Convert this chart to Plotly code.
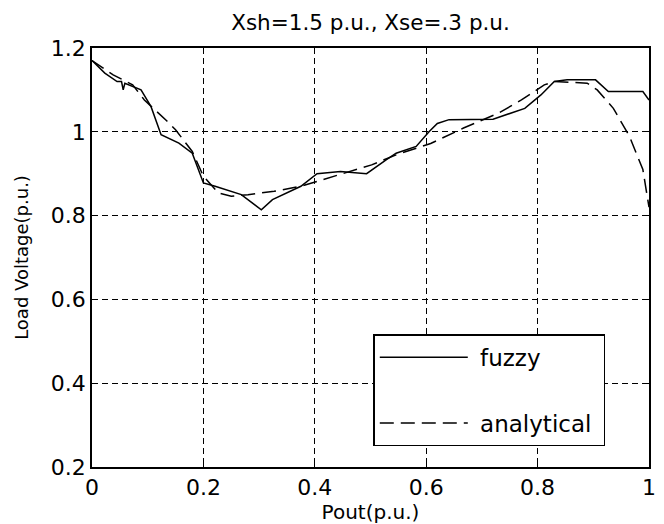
import plotly.graph_objects as go

title_text = "Xsh=1.5 p.u., Xse=.3 p.u."
x_label = "Pout(p.u.)"
y_label = "Load Voltage(p.u.)"
legend_names = ["fuzzy", "analytical"]

fuzzy_x = [0, 0.023, 0.045, 0.053, 0.056, 0.059, 0.088, 0.106, 0.124, 0.156, 0.18, 0.2, 0.221,
           0.268, 0.304, 0.324, 0.375, 0.404, 0.446, 0.493, 0.528, 0.546, 0.582, 0.605, 0.62,
           0.641, 0.72, 0.747, 0.777, 0.806, 0.83, 0.853, 0.904, 0.927, 0.989, 1.0]
fuzzy_y = [1.17, 1.14, 1.12, 1.12, 1.10, 1.116, 1.10, 1.06, 0.993, 0.973, 0.949, 0.878, 0.87,
           0.85, 0.814, 0.838, 0.87, 0.90, 0.905, 0.90, 0.933, 0.949, 0.965, 1.0, 1.02,
           1.029, 1.03, 1.043, 1.056, 1.088, 1.12, 1.124, 1.124, 1.096, 1.096, 1.076]

analytical_x = [0, 0.038, 0.073, 0.094, 0.135, 0.15, 0.18, 0.2, 0.227, 0.25, 0.28, 0.327, 0.375,
                0.404, 0.446, 0.502, 0.546, 0.582, 0.608, 0.667, 0.729, 0.771, 0.812, 0.83,
                0.889, 0.907, 0.936, 0.965, 0.989, 1.0]
analytical_y = [1.17, 1.136, 1.112, 1.076, 1.025, 1.005, 0.953, 0.894, 0.854, 0.846, 0.85, 0.858,
                0.87, 0.882, 0.898, 0.921, 0.945, 0.96, 0.972, 1.009, 1.044, 1.076, 1.112, 1.12,
                1.116, 1.1, 1.056, 0.989, 0.91, 0.82]

x_ticks = [0, 0.2, 0.4, 0.6, 0.8, 1]
x_ticktext = ["0", "0.2", "0.4", "0.6", "0.8", "1"]
y_ticks = [0.2, 0.4, 0.6, 0.8, 1.0, 1.2]
y_ticktext = ["0.2", "0.4", "0.6", "0.8", "1", "1.2"]

FONT = "DejaVu Sans, sans-serif"
NBSP = "\u00a0"

fig = go.Figure()
fig.add_trace(go.Scatter(x=fuzzy_x, y=fuzzy_y, mode="lines", name=NBSP + legend_names[0],
                         legendgroup="a",
                         line=dict(color="black", width=1.5)))
fig.add_trace(go.Scatter(x=analytical_x, y=analytical_y, mode="lines",
                         name=NBSP + legend_names[1] + NBSP,
                         legendgroup="b",
                         line=dict(color="black", width=1.5, dash="14px,7px")))

axis_common = dict(
    showline=True, linecolor="black", linewidth=1.5, mirror="allticks",
    ticks="inside", ticklen=5, tickcolor="black",
    showgrid=True, gridcolor="black", gridwidth=1, griddash="6px,4px",
    zeroline=False, tickfont=dict(family=FONT, size=22, color="black"),
)

fig.update_xaxes(range=[0, 1], tickvals=x_ticks, ticktext=x_ticktext,
                 title=dict(text=x_label, font=dict(family=FONT, size=20, color="black"), standoff=2),
                 **axis_common)
fig.update_yaxes(range=[0.2, 1.2], tickvals=y_ticks, ticktext=y_ticktext,
                 ticklabelstandoff=0,
                 title=dict(text=y_label, font=dict(family=FONT, size=18, color="black"), standoff=18),
                 **axis_common)

fig.update_layout(
    width=664, height=524,
    margin=dict(l=92, r=8, t=48, b=56),
    paper_bgcolor="white", plot_bgcolor="white",
    title=dict(text=title_text, xref="paper", x=0.5, xanchor="center", y=0.958, yanchor="middle",
               font=dict(family=FONT, size=21.5, color="black")),
    showlegend=True,
    legend=dict(x=0.505, y=0.317, xanchor="left", yanchor="top",
                bgcolor="white", bordercolor="black", borderwidth=1.5,
                font=dict(family=FONT, size=23, color="black"),
                itemwidth=88, tracegroupgap=33, traceorder="grouped"),
)

fig.write_html("out.html")
